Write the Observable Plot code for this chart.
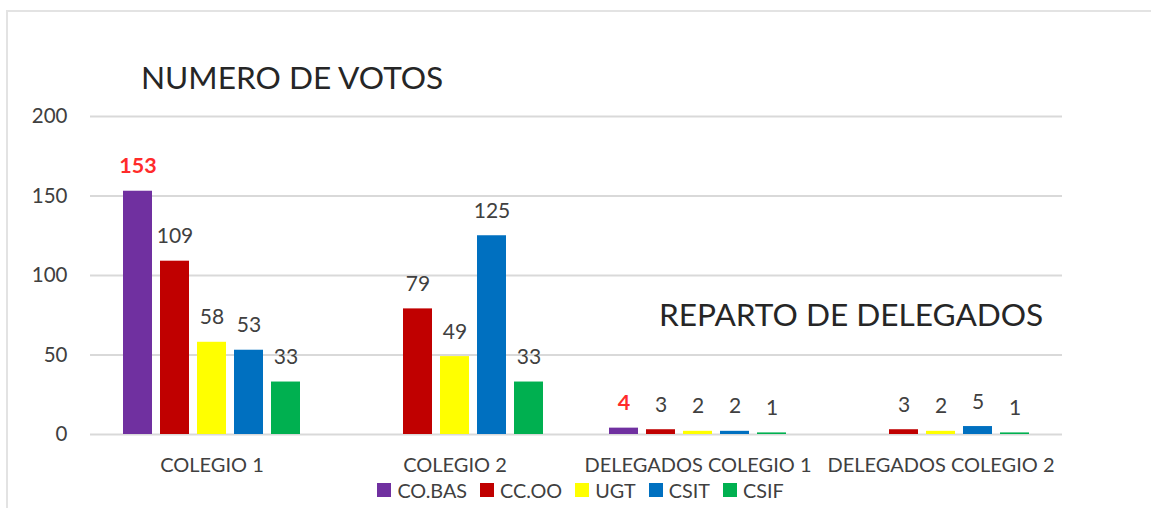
<!DOCTYPE html>
<html>
<head>
<meta charset="utf-8">
<script src="https://cdn.jsdelivr.net/npm/d3@7"></script>
<script src="https://cdn.jsdelivr.net/npm/@observablehq/plot@0.6"></script>
<style>
  html, body { margin: 0; padding: 0; background: #fff; }
  #wrap { position: relative; width: 1151px; height: 508px; overflow: hidden; font-family: Lato, "Open Sans", sans-serif; color: #404040; }
  #frame { position: absolute; left: 6px; top: 10px; width: 1200px; height: 600px; border-left: 2px solid #e3e3e3; border-top: 2px solid #e3e3e3; }
  #chart { position: absolute; left: 0; top: 0; }
  .title { position: absolute; font-size: 31.6px; color: #262626; white-space: nowrap; line-height: 1; }
  #legend { position: absolute; left: 0; width: 1151px; top: 479px; display: flex; justify-content: center; font-size: 19.8px; color: #404040; padding-left: 10px; box-sizing: border-box; line-height: 22px; }
  .item { display: flex; align-items: center; margin: 0 6.5px; }
  .sw { width: 14px; height: 14px; margin-right: 6px; }
</style>
</head>
<body>
<div id="wrap">
  <div id="frame"></div>
  <div id="chart"></div>
  <div class="title" id="t1" style="left:141px; top:62px;">NUMERO DE VOTOS</div>
  <div class="title" id="t2" style="left:659px; top:299px;">REPARTO DE DELEGADOS</div>
  <div id="legend"></div>
</div>
<script>
const categories = ["COLEGIO 1", "COLEGIO 2", "DELEGADOS COLEGIO 1", "DELEGADOS COLEGIO 2"];
const parties = ["CO.BAS", "CC.OO", "UGT", "CSIT", "CSIF"];
const partyColors = ["#7030A0", "#C00000", "#FFFF00", "#0070C0", "#00B050"];
const coBas = [153, null, 4, null];
const ccOo = [109, 79, 3, 3];
const ugt = [58, 49, 2, 2];
const csit = [53, 125, 2, 5];
const csif = [33, 33, 1, 1];
const yTicks = [0, 50, 100, 150, 200];
const highlightParty = "CO.BAS";

const seriesValues = [coBas, ccOo, ugt, csit, csif];
const data = [];
categories.forEach((cat, i) => {
  parties.forEach((p, j) => {
    const v = seriesValues[j][i];
    if (v != null) data.push({cat, party: p, value: v});
  });
});

const chart = Plot.plot({
  width: 1151,
  height: 480,
  marginLeft: 89,
  marginRight: 88,
  marginTop: 116,
  marginBottom: 46,
  style: {fontFamily: "Lato, 'Open Sans', sans-serif", fontSize: "20px", color: "#404040", background: "transparent"},
  fx: {domain: categories, padding: 0, label: null},
  x: {domain: parties, paddingInner: 0.21, paddingOuter: 0.85, axis: null},
  y: {domain: [0, 200], label: null},
  color: {domain: parties, range: partyColors},
  marks: [
    Plot.gridY(yTicks, {stroke: "#d9d9d9", strokeOpacity: 1, strokeWidth: 2}),
    Plot.axisY(yTicks, {tickSize: 0, tickPadding: 23, fontSize: 20.5, fill: "#404040", label: null}),
    Plot.axisFx({anchor: "bottom", tickSize: 0, tickPadding: 23, fontSize: 20, fill: "#404040", label: null}),
    Plot.barY(data, {fx: "cat", x: "party", y: "value", fill: "party"}),
    Plot.text(data.filter(d => d.party !== highlightParty), {fx: "cat", x: "party", y: "value", text: d => String(d.value), lineAnchor: "bottom", dy: -18, fontSize: 21, fill: "#404040"}),
    Plot.text(data.filter(d => d.party === highlightParty), {fx: "cat", x: "party", y: "value", text: d => String(d.value), lineAnchor: "bottom", dy: -18, fontSize: 21.5, fontWeight: "bold", fill: "#FF2B2B"})
  ]
});
document.getElementById("chart").appendChild(chart);

const legend = document.getElementById("legend");
parties.forEach((p, i) => {
  const item = document.createElement("div");
  item.className = "item";
  const sw = document.createElement("div");
  sw.className = "sw";
  sw.style.background = partyColors[i];
  const lab = document.createElement("span");
  lab.textContent = p;
  item.appendChild(sw);
  item.appendChild(lab);
  legend.appendChild(item);
});
</script>
</body>
</html>
